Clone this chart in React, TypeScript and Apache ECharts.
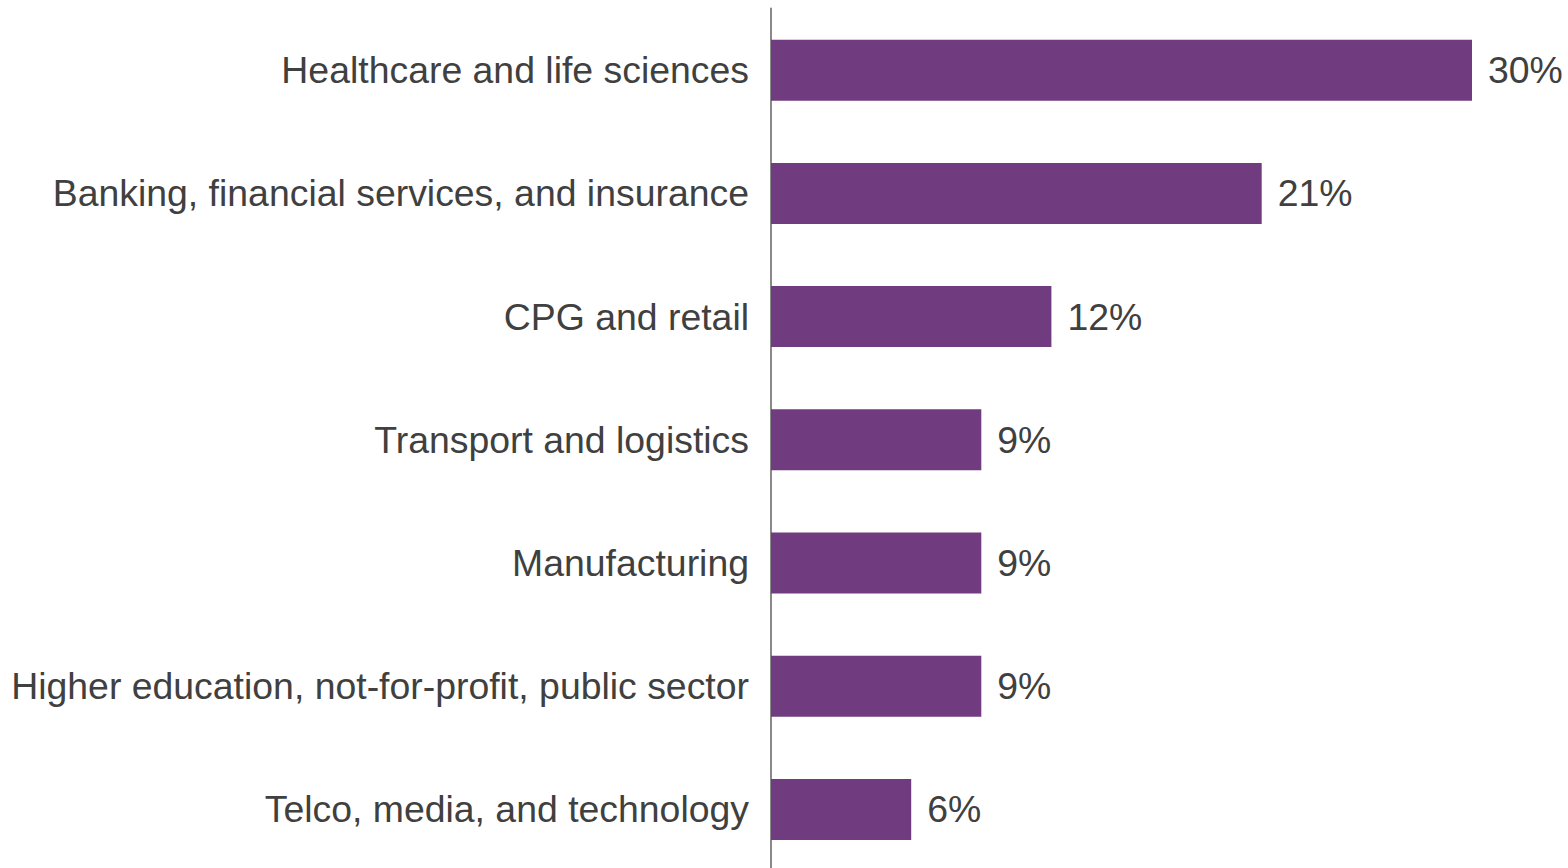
import React, { useEffect, useRef } from "react";
import * as echarts from "echarts";

const categories = [
  "Healthcare and life sciences",
  "Banking, financial services, and insurance",
  "CPG and retail",
  "Transport and logistics",
  "Manufacturing",
  "Higher education, not-for-profit, public sector",
  "Telco, media, and technology",
];
const values = [30, 21, 12, 9, 9, 9, 6];

export default function App() {
  const ref = useRef<HTMLDivElement>(null);
  useEffect(() => {
    if (!ref.current) return;
    const chart = echarts.init(ref.current, null, { renderer: "svg" });
    chart.setOption({
      animation: false,
      backgroundColor: "#ffffff",
      grid: { left: 771, width: 701, top: 8.6, height: 862.4, containLabel: false },
      xAxis: {
        type: "value",
        min: 0,
        max: 30,
        show: false,
      },
      yAxis: {
        type: "category",
        data: categories,
        inverse: true,
        axisLine: { show: true, lineStyle: { color: "#898989", width: 2 } },
        axisTick: { show: false },
        axisLabel: {
          color: "#404040",
          fontSize: 37.4,
          fontFamily: "Liberation Sans, Arial, sans-serif",
          margin: 22,
        },
        splitLine: { show: false },
      },
      series: [
        {
          type: "bar",
          data: values,
          barCategoryGap: "50.5%",
          itemStyle: { color: "#713B7F" },
          label: {
            show: true,
            position: "right",
            distance: 16,
            formatter: "{c}%",
            color: "#404040",
            fontSize: 37.4,
            fontFamily: "Liberation Sans, Arial, sans-serif",
          },
        },
      ],
    });
    return () => chart.dispose();
  }, []);
  return (
    <div
      style={{
        position: "fixed",
        left: 0,
        top: 0,
        width: 1568,
        height: 868,
        overflow: "hidden",
        background: "#ffffff",
      }}
    >
      <div ref={ref} style={{ width: 1568, height: 880 }} />
    </div>
  );
}
